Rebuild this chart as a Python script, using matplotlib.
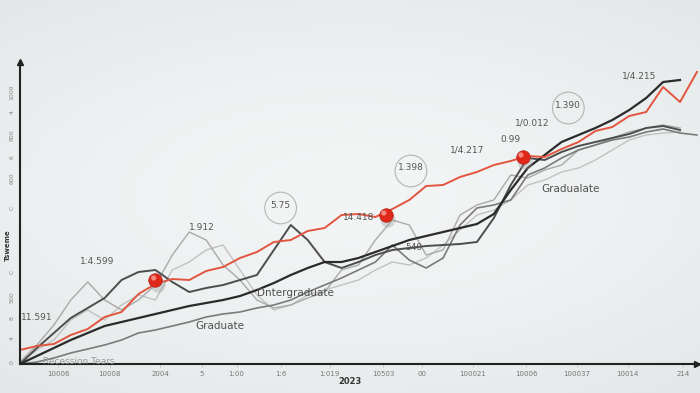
import numpy as np
import matplotlib
matplotlib.use("Agg")
import matplotlib.pyplot as plt

# ---- data (arbitrary units) ----
idx = np.arange(41)

red = [14, 18, 20, 29, 35, 47, 52, 70, 80, 85, 84, 93, 97, 106, 112, 122, 124, 133, 136, 149,
       150, 147, 155, 164, 178, 179, 187, 192, 199, 203, 208, 207, 215, 222, 233, 237, 248, 252,
       277, 262, 292]
black = [0, 8, 16, 24, 31, 38, 42, 46, 50, 54, 58, 61, 64, 68, 74, 81, 89, 96, 102, 102,
         106, 112, 118, 124, 128, 132, 136, 140, 150, 174, 196, 209, 222, 229, 236, 244, 254, 266,
         282, 284, np.nan]
darkgray = [0, 16, 31, 46, 56, 66, 84, 92, 94, 82, 72, 76, 79, 84, 89, 114, 139, 124, 102, 96,
            102, 109, 114, 116, 118, 119, 120, 122, 146, 179, 206, 204, 212, 218, 222, 226, 230, 236,
            238, 234, np.nan]
midgray = [0, 2, 6, 11, 15, 19, 24, 31, 34, 38, 42, 47, 50, 52, 56, 59, 64, 72, 79, 86,
           94, 102, 119, 104, 96, 106, 139, 156, 159, 164, 189, 196, 206, 214, 219, 224, 227, 232,
           235, 231, 229]
light1 = [2, 19, 39, 64, 82, 64, 54, 64, 79, 109, 132, 124, 99, 84, 64, 56, 59, 66, 72, 94,
          99, 124, 144, 139, 109, 114, 149, 159, 164, 189, 186, 194, 199, 214, 219, 226, 232, 236,
          239, 236, np.nan]
light2 = [1, 14, 24, 44, 54, 44, 59, 69, 64, 94, 102, 114, 119, 94, 69, 54, 59, 69, 74, 79,
          84, 94, 102, 99, 106, 119, 134, 149, 154, 164, 179, 184, 192, 196, 204, 214, 224, 229,
          231, 232, np.nan]

dot_x = [8.0, 21.6, 29.7]
dot_y = [84, 149, 207]

xtick_pos = [2.25, 5.3, 8.3, 10.75, 12.8, 15.4, 18.3, 21.45, 23.75, 26.75, 29.9, 32.9, 35.9, 39.2]
xtick_lab = ["10006", "10008", "2004", "5", "1:00", "1:6", "1:019", "10503", "00", "100021",
             "10006", "100037", "10014", "214"]
ytick_pos = [272, 252, 229, 207, 186, 156, 92, 67, 46, 26, 2]
ytick_lab = ["1000", "4", "800", "6", "600", "C", "C", "500", "8", "4", "0"]

ann_txt = ["11.591", "1:4.599", "1.912", "5.75", "14.418", "1.398", "1/4.217", "0.99",
           "1/0.012", "1.390", "1/4.215", "540"]
ann_x = [1.0, 4.55, 10.75, 15.4, 20.0, 23.1, 26.4, 28.95, 30.25, 32.4, 36.6, 23.3]
ann_y = [46, 102, 137, 159, 146, 196, 214, 224, 241, 259, 288, 117]
circled = ["5.75", "1.398", "1.390"]

lab_txt = ["Graduate", "Dntergraduate", "Gradualate"]
lab_x = [11.8, 16.25, 32.55]
lab_y = [38, 71, 175]

fig = plt.figure(figsize=(7, 3.93), dpi=100)

# background with soft vignette
bg = fig.add_axes([0, 0, 1, 1])
yy, xx = np.mgrid[-1:1:200j, -1:1:350j]
r = np.sqrt((xx * 0.9) ** 2 + (yy * 1.1) ** 2)
bg.imshow(r, cmap=matplotlib.colors.LinearSegmentedColormap.from_list(
    "bg", ["#f4f6f6", "#eef1f1", "#e4e8e9"]), aspect="auto", extent=[0, 1, 0, 1], vmin=0, vmax=1.4)
bg.axis("off")

ax = fig.add_axes([20 / 700, 29 / 393, 680 / 700, 309 / 393])
ax.patch.set_alpha(0)
ax.set_xlim(0, 40.18)
ax.set_ylim(0, 309)

ax.plot(idx, light2, color="#c2c2c2", lw=1.0)
ax.plot(idx, light1, color="#a9a9a9", lw=1.0)
ax.plot(idx, midgray, color="#7b7b7b", lw=1.2)
ax.plot(idx, darkgray, color="#4d4d4d", lw=1.4)
ax.plot(idx, black, color="#2b2b2b", lw=1.6)
ax.plot(idx, red, color="#e2553f", lw=1.4)

# red pins with shadow
ax.scatter(np.array(dot_x) + 0.15, np.array(dot_y) - 5, s=120, color="#9a9a9a", alpha=0.35,
           edgecolors="none", zorder=4)
ax.scatter(dot_x, dot_y, s=95, color="#e0281a", edgecolors="#b01e12", linewidths=0.5, zorder=5)
ax.scatter(np.array(dot_x) - 0.1, np.array(dot_y) + 2, s=14, color="#f48a7e", edgecolors="none",
           zorder=6)

for t, x, y in zip(ann_txt, ann_x, ann_y):
    ax.text(x, y, t, fontsize=6.5, color="#555555", ha="center", va="center")
    if t in circled:
        ax.scatter([x], [y - 3], s=520, facecolors="none", edgecolors="#b5b5b5", linewidths=0.8)

for t, x, y in zip(lab_txt, lab_x, lab_y):
    ax.text(x, y, t, fontsize=7.5, color="#505050", ha="center", va="center")

ax.text(3.5, 3, "Recession Tears", fontsize=6.5, color="#9a9a9a", ha="center", va="center")

# axes
for s in ["top", "right"]:
    ax.spines[s].set_visible(False)
ax.spines["left"].set_bounds(0, 302)
ax.spines["left"].set_linewidth(1.5)
ax.spines["bottom"].set_linewidth(1.5)
ax.spines["left"].set_color("#222222")
ax.spines["bottom"].set_color("#222222")
ax.plot([40.0], [0], marker=">", color="#222222", markersize=5, clip_on=False)
ax.plot([0], [302], marker="^", color="#222222", markersize=4, clip_on=False)

ax.set_xticks(xtick_pos)
ax.set_xticklabels(xtick_lab, fontsize=5, color="#777777")
ax.tick_params(axis="x", length=2, width=0.5, color="#bbbbbb", pad=3)
ax.set_yticks(ytick_pos)
ax.set_yticklabels(ytick_lab, fontsize=4.5, color="#888888", rotation=90, va="center")
ax.tick_params(axis="y", length=0, pad=4)
ax.text(-0.7, 119, "Tsweme", fontsize=5, fontweight="bold", color="#333333", rotation=90,
        ha="center", va="center", clip_on=False)
ax.text(19.5, -17, "2023", fontsize=6, fontweight="bold", color="#333333", ha="center",
        va="center", clip_on=False)

fig.savefig("out.png", dpi=100)
